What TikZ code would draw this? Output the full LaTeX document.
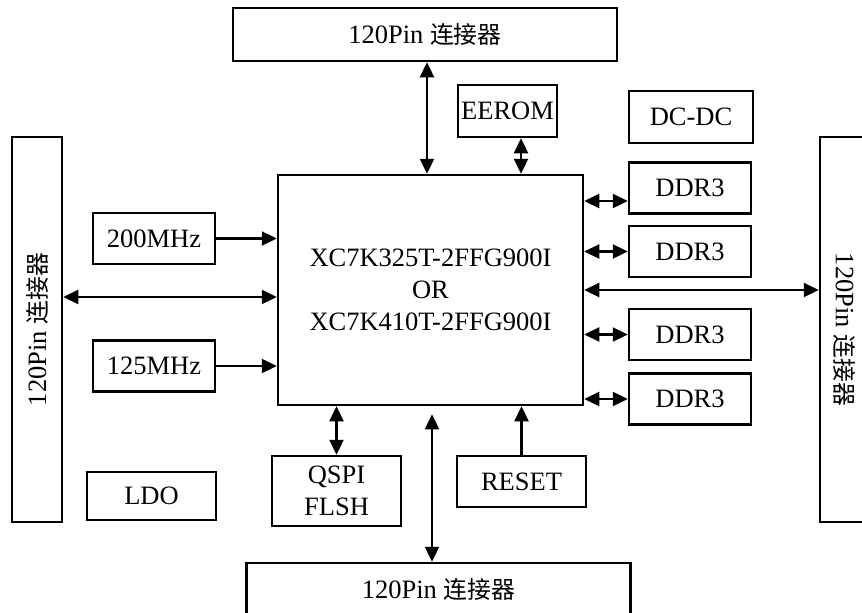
\documentclass[tikz,border=0pt]{standalone}
\usepackage{fontspec}
\setmainfont{Liberation Serif}
\newfontfamily\cjk[Scale=0.9]{Noto Sans CJK SC}
\usetikzlibrary{arrows.meta, positioning}

\begin{document}
\begin{tikzpicture}[
  x=1pt, y=-1pt,
  font=\fontsize{26.5}{32}\selectfont,
  box/.style={draw, line width=2.5pt, align=center, inner sep=0pt},
  conn/.style={box, minimum width=384pt, minimum height=53pt},
  side/.style={box, minimum width=385pt, minimum height=50pt},
  ddr/.style={box, minimum width=122pt, minimum height=51pt},
  clk/.style={box, minimum width=122pt, minimum height=51pt},
  arrow/.style={-{Triangle[length=15pt,width=14pt]}, line width=2.3pt},
  biarrow/.style={{Triangle[length=15pt,width=14pt]}-{Triangle[length=15pt,width=14pt]}, line width=2.3pt}
]
\clip (0,0) rectangle (862,613);

\node[conn] (top) at (425,34.5) {120Pin {\cjk 连接器}};
\node[conn] (bot) at (438.5,589.5) {120Pin {\cjk 连接器}};
\node[side, rotate=90] (leftcon) at (37,329.5) {120Pin {\cjk 连接器}};
\node[side, rotate=-90] (rightcon) at (845,329.5) {120Pin {\cjk 连接器}};

\node[box, minimum width=305pt, minimum height=230pt] (chip) at (430.5,290)
  {XC7K325T-2FFG900I\\OR\\XC7K410T-2FFG900I};

\node[box, minimum width=99pt, minimum height=52pt] (eerom) at (507.5,111) {EEROM};
\node[box, minimum width=124pt, minimum height=52pt] (dcdc) at (691,117) {DC-DC};

\node[ddr] (ddr1) at (690,188) {DDR3};
\node[ddr] (ddr2) at (690,251.5) {DDR3};
\node[ddr] (ddr3) at (690,334.5) {DDR3};
\node[ddr] (ddr4) at (690,399) {DDR3};

\node[clk] (clk200) at (154,238.5) {200MHz};
\node[clk] (clk125) at (154,366) {125MHz};
\node[box, minimum width=129pt, minimum height=48pt] (ldo) at (151.5,496) {LDO};

\node[box, minimum width=129pt, minimum height=70pt] (qspi) at (336.5,491) {QSPI\\FLSH};
\node[box, minimum width=129pt, minimum height=51pt] (reset) at (521.5,481.5) {RESET};

% top side
\draw[biarrow] ([xshift=2pt]top.south) -- ([xshift=2pt]top.south |- chip.north);
\draw[biarrow] ([xshift=13.5pt]eerom.south) -- ([xshift=13.5pt]eerom.south |- chip.north);

% left side
\draw[arrow] (clk200.east) -- (clk200.east -| chip.west);
\draw[arrow] (clk125.east) -- (clk125.east -| chip.west);
\draw[biarrow] ([yshift=-7pt]chip.west -| leftcon.south) -- ([yshift=-7pt]chip.west);

% right side
\draw[biarrow] ([yshift=-13pt]ddr1.west -| chip.east) -- ([yshift=-13pt]ddr1.west);
\draw[biarrow] (ddr2.west -| chip.east) -- (ddr2.west);
\draw[biarrow] (ddr3.west -| chip.east) -- (ddr3.west);
\draw[biarrow] (ddr4.west -| chip.east) -- (ddr4.west);
\draw[biarrow] (chip.east) -- (chip.east -| rightcon.south);

% bottom side
\draw[biarrow] (qspi.north) -- (qspi.north |- chip.south);
\draw[arrow] (reset.north) -- (reset.north |- chip.south);
\draw[biarrow, shorten >=8pt] ([xshift=-6.5pt]bot.north) -- ([xshift=-6.5pt]bot.north |- chip.south);
\end{tikzpicture}
\end{document}
